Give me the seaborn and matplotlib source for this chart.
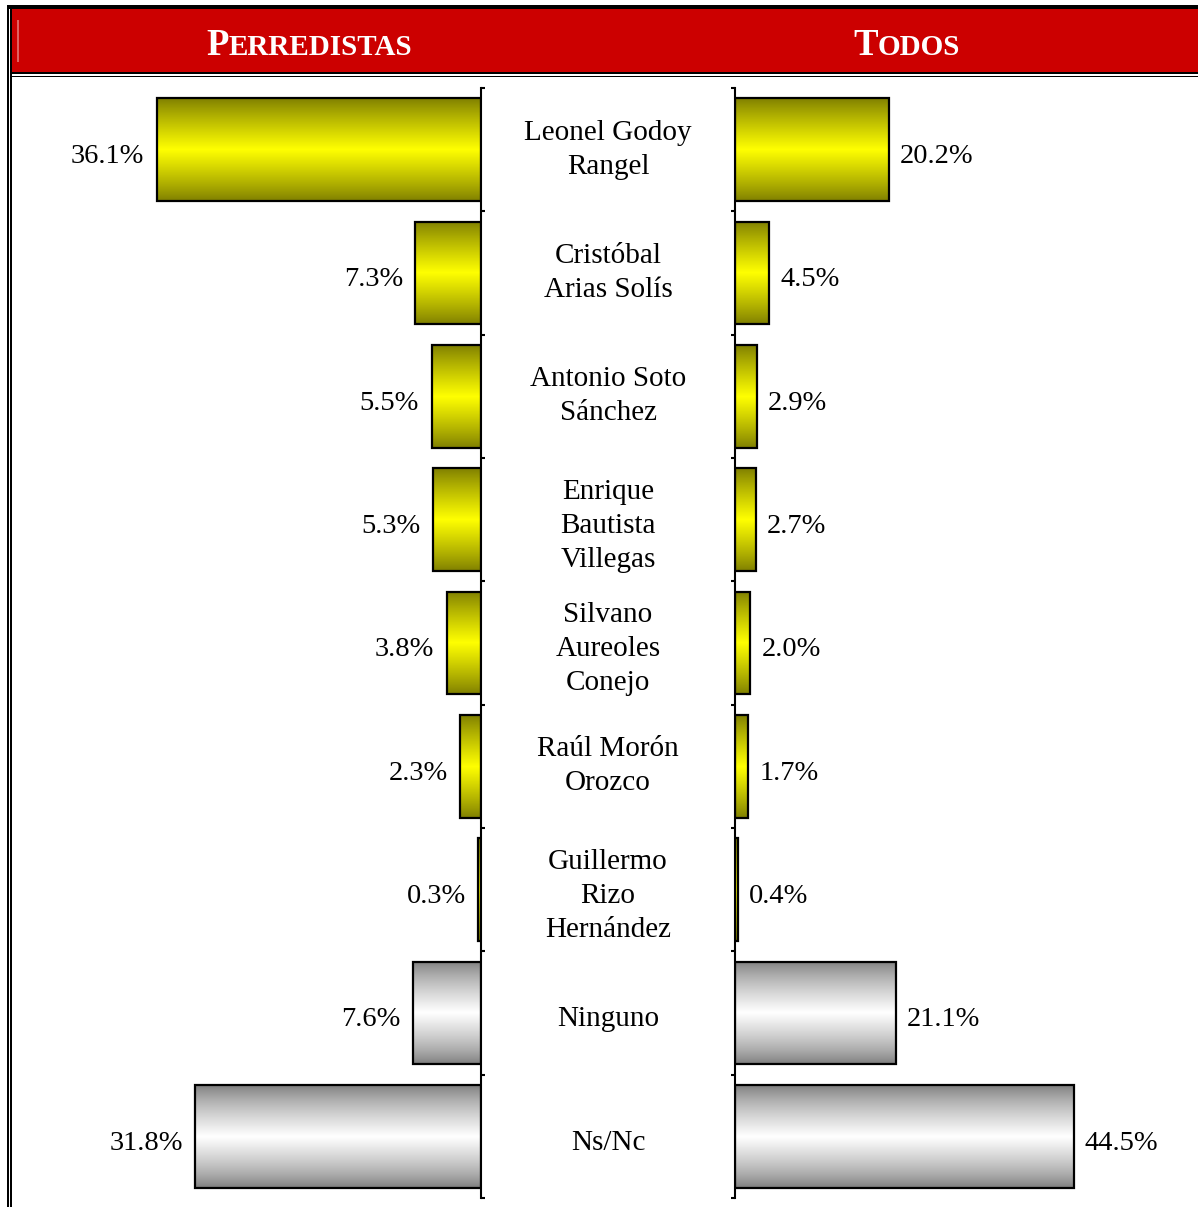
import matplotlib
matplotlib.use("Agg")
import matplotlib.pyplot as plt
import matplotlib.transforms as mtransforms
from matplotlib.patches import Rectangle
import numpy as np
import seaborn as sns

# datos
candidatos = [
    "Leonel Godoy\nRangel",
    "Cristóbal\nArias Solís",
    "Antonio Soto\nSánchez",
    "Enrique\nBautista\nVillegas",
    "Silvano\nAureoles\nConejo",
    "Raúl Morón\nOrozco",
    "Guillermo\nRizo\nHernández",
    "Ninguno",
    "Ns/Nc",
]
perredistas = [36.1, 7.3, 5.5, 5.3, 3.8, 2.3, 0.3, 7.6, 31.8]
todos = [20.2, 4.5, 2.9, 2.7, 2.0, 1.7, 0.4, 21.1, 44.5]
tipo = ["cand"] * 7 + ["otro"] * 2

W, H = 1198, 1207
sns.set_theme(style="white")
plt.rcParams["font.family"] = ["Liberation Serif", "DejaVu Serif"]

fig = plt.figure(figsize=(W / 100, H / 100), dpi=100)
fig.patch.set_facecolor("white")


def fx(x):
    return x / W


def fy(y):
    return 1 - y / H


def rect_px(x0, y0, x1, y1, color):
    fig.add_artist(Rectangle((fx(x0), fy(y1)), fx(x1) - fx(x0), fy(y0) - fy(y1),
                             transform=fig.transFigure, facecolor=color,
                             edgecolor="none", lw=0))


# encabezado y marco
rect_px(7, 5, W, 9, "black")
rect_px(12, 9, W, 72, "#CC0000")
rect_px(17, 20, 18.5, 62, "#E06060")
rect_px(12, 72, W, 74, "black")
rect_px(12, 75.5, W, 77, "black")
rect_px(7, 5, 9, H, "black")
rect_px(10, 5, 12, H, "black")


def small_caps(x_center, y_base, first, rest, s1, s2):
    t1 = fig.text(0, fy(y_base), first, fontsize=s1, fontweight="bold",
                  color="white", va="baseline", ha="left")
    t2 = fig.text(0, fy(y_base), rest, fontsize=s2, fontweight="bold",
                  color="white", va="baseline", ha="left")
    fig.canvas.draw()
    r = fig.canvas.get_renderer()
    w1 = t1.get_window_extent(r).width
    w2 = t2.get_window_extent(r).width
    x0 = x_center - (w1 + w2) / 2
    t1.set_x(fx(x0))
    t2.set_x(fx(x0 + w1))


small_caps(309, 55, "P", "ERREDISTAS", 26.5, 21)
small_caps(907, 55, "T", "ODOS", 26.5, 21)

top_px, bot_px = 88, 1198
ax_l = fig.add_axes([fx(20), fy(bot_px), fx(481) - fx(20), fy(top_px) - fy(bot_px)])
ax_r = fig.add_axes([fx(735), fy(bot_px), fx(W) - fx(735), fy(top_px) - fy(bot_px)])


def grad_img(dark, light, power):
    t = np.linspace(0, 1, 256)
    k = 1 - np.abs(t - 0.5) * 2
    k = k ** power
    dark = np.array(matplotlib.colors.to_rgb(dark))
    light = np.array(matplotlib.colors.to_rgb(light))
    return (dark[None, :] + (light - dark)[None, :] * k[:, None])[:, None, :]


grads = {
    "cand": grad_img("#7F7F00", "#FFFF00", 0.9),
    "otro": grad_img("#7A7A7A", "#FFFFFF", 0.75),
}

for ax, vals, xmax, side in [(ax_l, perredistas, 51.3, "left"),
                             (ax_r, todos, 60.8, "right")]:
    sns.barplot(x=vals, y=candidatos, orient="h", ax=ax, width=0.835,
                color="white", edgecolor="black", linewidth=1.6, saturation=1)
    for p, kind in zip(ax.patches, tipo):
        p.set_facecolor("none")
        p.set_zorder(3)
        x0, y0 = p.get_x(), p.get_y()
        w, h = p.get_width(), p.get_height()
        im = ax.imshow(grads[kind], extent=(x0, x0 + w, y0 + h, y0),
                       aspect="auto", zorder=2, interpolation="bilinear")
        im.set_clip_path(p)
    ax.set_xlim(0, xmax)
    ax.set_ylim(8.5, -0.5)
    ax.set_xticks([])
    ax.set_yticks(np.arange(-0.5, 9, 1))
    ax.set_yticklabels([])
    ax.set_xlabel("")
    ax.set_ylabel("")
    ax.set_facecolor("none")
    for s in ax.spines.values():
        s.set_visible(False)
    ax.tick_params(axis="y", direction="out", length=3, width=1.5,
                   color="black", left=False, right=False)
    off = -9 if side == "left" else 8
    ha = "right" if side == "left" else "left"
    for i, v in enumerate(vals):
        ax.annotate(f"{v:.1f}%", (v, i), xytext=(off, -5),
                    textcoords="offset points", ha=ha, va="center",
                    fontsize=20.5, color="black")

ax_l.invert_xaxis()
ax_l.spines["right"].set_visible(True)
ax_l.spines["right"].set_linewidth(1.5)
ax_l.spines["right"].set_color("black")
ax_l.tick_params(axis="y", right=True)
ax_r.spines["left"].set_visible(True)
ax_r.spines["left"].set_linewidth(1.5)
ax_r.spines["left"].set_color("black")
ax_r.tick_params(axis="y", left=True)

# nombres al centro
trans = mtransforms.blended_transform_factory(fig.transFigure, ax_r.transData)
for i, name in enumerate(candidatos):
    dy = 0.0 if "\n" in name and name.count("\n") == 1 else 0.05
    ax_r.text(fx(608), i + dy, name, transform=trans, ha="center",
              va="center", fontsize=21, linespacing=1.4, color="black",
              clip_on=False)

fig.savefig("out.png", dpi=100)
